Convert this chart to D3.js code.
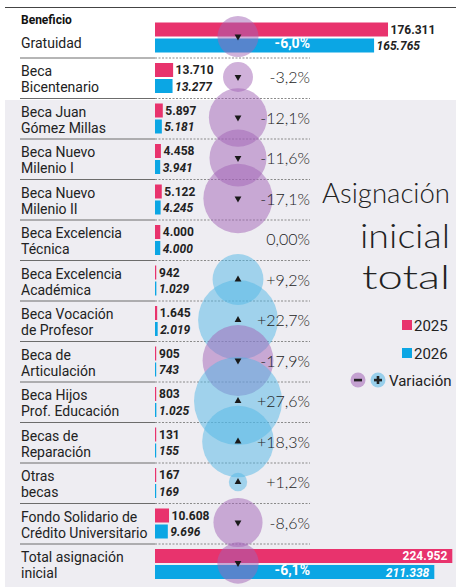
<!DOCTYPE html>
<html>
<head>
<meta charset="utf-8">
<script src="https://cdn.jsdelivr.net/npm/d3@7"></script>
<style>
  body { margin: 0; background: #fff; }
  svg { display: block; font-family: Roboto, "Noto Sans", sans-serif; }
  .light { font-family: Lato, Roboto, sans-serif; font-weight: 300; }
</style>
</head>
<body>
<svg id="chart"></svg>
<script>
const categories = [
    'Gratuidad', 'Beca\nBicentenario', 'Beca Juan\nGómez Millas', 'Beca Nuevo\nMilenio I',
    'Beca Nuevo\nMilenio II', 'Beca Excelencia\nTécnica', 'Beca Excelencia\nAcadémica',
    'Beca Vocación\nde Profesor', 'Beca de\nArticulación', 'Beca Hijos\nProf. Educación',
    'Becas de\nReparación', 'Otras\nbecas', 'Fondo Solidario de\nCrédito Universitario',
    'Total asignación\ninicial'
];
const values2025 = [176311, 13710, 5897, 4458, 5122, 4000, 942, 1645, 905, 803, 131, 167, 10608, 224952];
const values2026 = [165765, 13277, 5181, 3941, 4245, 4000, 1029, 2019, 743, 1025, 155, 169, 9696, 211338];
const variation = [-6.0, -3.2, -12.1, -11.6, -17.1, 0, 9.2, 22.7, -17.9, 27.6, 18.3, 1.2, -8.6, -6.1];
const variationLabels = ['-6,0%', '-3,2%', '-12,1%', '-11,6%', '-17,1%', '0,00%', '+9,2%', '+22,7%',
    '-17,9%', '+27,6%', '+18,3%', '+1,2%', '-8,6%', '-6,1%'];
const legendYears = ['2025', '2026'];

const W = 456, H = 587;
const pink = '#e8336d', blue = '#0ba6e4';
const purpleCircle = '#a263b6', blueCircle = '#52b7e6';

const rows = categories.map((c, i) => ({
    name: c, v25: values2025[i], v26: values2026[i], pct: variation[i], label: variationLabels[i], i
}));
const big = d => d.i === 0 || d.i === rows.length - 1;

const fmt = d3.formatLocale({ decimal: ',', thousands: '.', grouping: [3], currency: ['$', ''] }).format(',d');

const svg = d3.select('#chart').attr('width', W).attr('height', H);

// fondo
svg.append('rect').attr('x', 5).attr('y', 100).attr('width', W - 5).attr('height', H - 100).attr('fill', '#eeedf2');
svg.append('line').attr('x1', 5).attr('x2', W).attr('y1', 7.5).attr('y2', 7.5).attr('stroke', '#444').attr('stroke-width', 1.2);

const y = d3.scaleBand().domain(categories).range([17.5, 584.5]);
const x = d3.scaleLinear().domain([0, 224952]).range([155, 452.3]);
const r = d3.scaleSqrt().domain([0, 27.6]).range([0, 44]);

// separadores
const seps = rows.slice(0, -1);
svg.selectAll('.sep').data(seps).enter().append('line')
    .attr('x1', 20).attr('x2', 155)
    .attr('y1', d => y(d.name) + y.bandwidth()).attr('y2', d => y(d.name) + y.bandwidth())
    .attr('stroke', '#6c6c6c').attr('stroke-width', 1);
svg.selectAll('.dot').data(seps).enter().append('line')
    .attr('x1', 155).attr('x2', 310)
    .attr('y1', d => y(d.name) + y.bandwidth()).attr('y2', d => y(d.name) + y.bandwidth())
    .attr('stroke', '#8a8a8a').attr('stroke-width', 1).attr('stroke-dasharray', '2,1.5');

svg.append('text').attr('x', 21).attr('y', 24).attr('font-size', 12).attr('font-weight', 700)
    .attr('fill', '#111').text('Beneficio');

// etiquetas
const lab = svg.selectAll('.lab').data(rows).enter().append('text')
    .attr('font-size', 14).attr('fill', '#222');
lab.each(function(d) {
    const lines = d.name.split('\n');
    const t = d3.select(this);
    lines.forEach((ln, k) => {
        t.append('tspan').attr('x', 21)
            .attr('y', y(d.name) + (lines.length === 1 ? 30.5 : 18 + k * 16))
            .text(ln);
    });
});

// barras
svg.selectAll('.b25').data(rows).enter().append('rect')
    .attr('x', x(0)).attr('y', d => y(d.name) + 5)
    .attr('width', d => Math.max(1.2, x(d.v25) - x(0))).attr('height', 14).attr('fill', pink);
svg.selectAll('.b26').data(rows).enter().append('rect')
    .attr('x', x(0)).attr('y', d => y(d.name) + 21)
    .attr('width', d => Math.max(1.2, x(d.v26) - x(0))).attr('height', 14).attr('fill', blue);

const inside = v => x(v) + 50 > W;
svg.selectAll('.t25').data(rows).enter().append('text')
    .attr('x', d => inside(d.v25) ? x(d.v25) - 5 : Math.max(x(d.v25), x(0) + 1.5) + 2.5)
    .attr('y', d => y(d.name) + 16)
    .attr('text-anchor', d => inside(d.v25) ? 'end' : 'start')
    .attr('font-size', 12).attr('font-weight', 700)
    .attr('fill', d => inside(d.v25) ? '#fff' : '#222')
    .text(d => fmt(d.v25));
svg.selectAll('.t26').data(rows).enter().append('text')
    .attr('x', d => inside(d.v26) ? x(d.v26) - 5 : Math.max(x(d.v26), x(0) + 1.5) + 2.5)
    .attr('y', d => y(d.name) + 32.5)
    .attr('text-anchor', d => inside(d.v26) ? 'end' : 'start')
    .attr('font-size', 12).attr('font-weight', 700).attr('font-style', 'italic')
    .attr('fill', d => inside(d.v26) ? '#fff' : '#222')
    .text(d => fmt(d.v26));

// círculos de variación
const cx = 238;
svg.selectAll('.circ').data(rows.filter(d => d.pct !== 0)).enter().append('circle')
    .attr('cx', cx).attr('cy', d => y(d.name) + 19)
    .attr('r', d => r(Math.abs(d.pct)))
    .attr('fill', d => d.pct < 0 ? purpleCircle : blueCircle)
    .attr('fill-opacity', 0.5);

svg.selectAll('.tri').data(rows.filter(d => d.pct !== 0)).enter().append('path')
    .attr('d', d3.symbol().type(d3.symbolTriangle).size(20))
    .attr('transform', d => `translate(${cx},${y(d.name) + 19}) rotate(${d.pct < 0 ? 180 : 0})`)
    .attr('fill', '#1a1a1a');

svg.selectAll('.pct').data(rows).enter().append('text')
    .attr('class', d => big(d) ? null : 'light')
    .attr('x', 310).attr('y', d => y(d.name) + (big(d) ? 30.5 : 25))
    .attr('text-anchor', 'end')
    .attr('font-size', d => big(d) ? 14 : 16)
    .attr('font-weight', d => big(d) ? 700 : null)
    .attr('fill', d => big(d) ? '#fff' : '#222')
    .text(d => d.label);

// título
const title = svg.append('g').attr('class', 'light').attr('fill', '#222').attr('text-anchor', 'end');
title.append('text').attr('x', 450).attr('y', 203).attr('font-size', 28)
    .attr('textLength', 128).attr('lengthAdjust', 'spacingAndGlyphs').text('Asignación');
title.append('text').attr('x', 450).attr('y', 248).attr('font-size', 34)
    .attr('textLength', 90).attr('lengthAdjust', 'spacingAndGlyphs').text('inicial');
title.append('text').attr('x', 450).attr('y', 289).attr('font-size', 34)
    .attr('textLength', 88).attr('lengthAdjust', 'spacingAndGlyphs').text('total');

// leyenda
const leg = svg.append('g');
legendYears.forEach((yr, k) => {
    leg.append('rect').attr('x', 402).attr('y', 320 + k * 28).attr('width', 10).attr('height', 10)
        .attr('fill', k === 0 ? pink : blue);
    leg.append('text').attr('x', 414).attr('y', 331 + k * 28).attr('font-size', 15).attr('fill', '#222').text(yr);
});
leg.append('circle').attr('cx', 358).attr('cy', 380).attr('r', 7.5).attr('fill', purpleCircle).attr('fill-opacity', 0.55);
leg.append('circle').attr('cx', 378).attr('cy', 380).attr('r', 7.5).attr('fill', blueCircle).attr('fill-opacity', 0.55);
leg.append('rect').attr('x', 354).attr('y', 378.8).attr('width', 8).attr('height', 2.6).attr('fill', '#222');
leg.append('rect').attr('x', 374).attr('y', 378.8).attr('width', 8).attr('height', 2.6).attr('fill', '#222');
leg.append('rect').attr('x', 376.7).attr('y', 376).attr('width', 2.6).attr('height', 8).attr('fill', '#222');
leg.append('text').attr('x', 389).attr('y', 386).attr('font-size', 15).attr('fill', '#222').text('Variación');
</script>
</body>
</html>
